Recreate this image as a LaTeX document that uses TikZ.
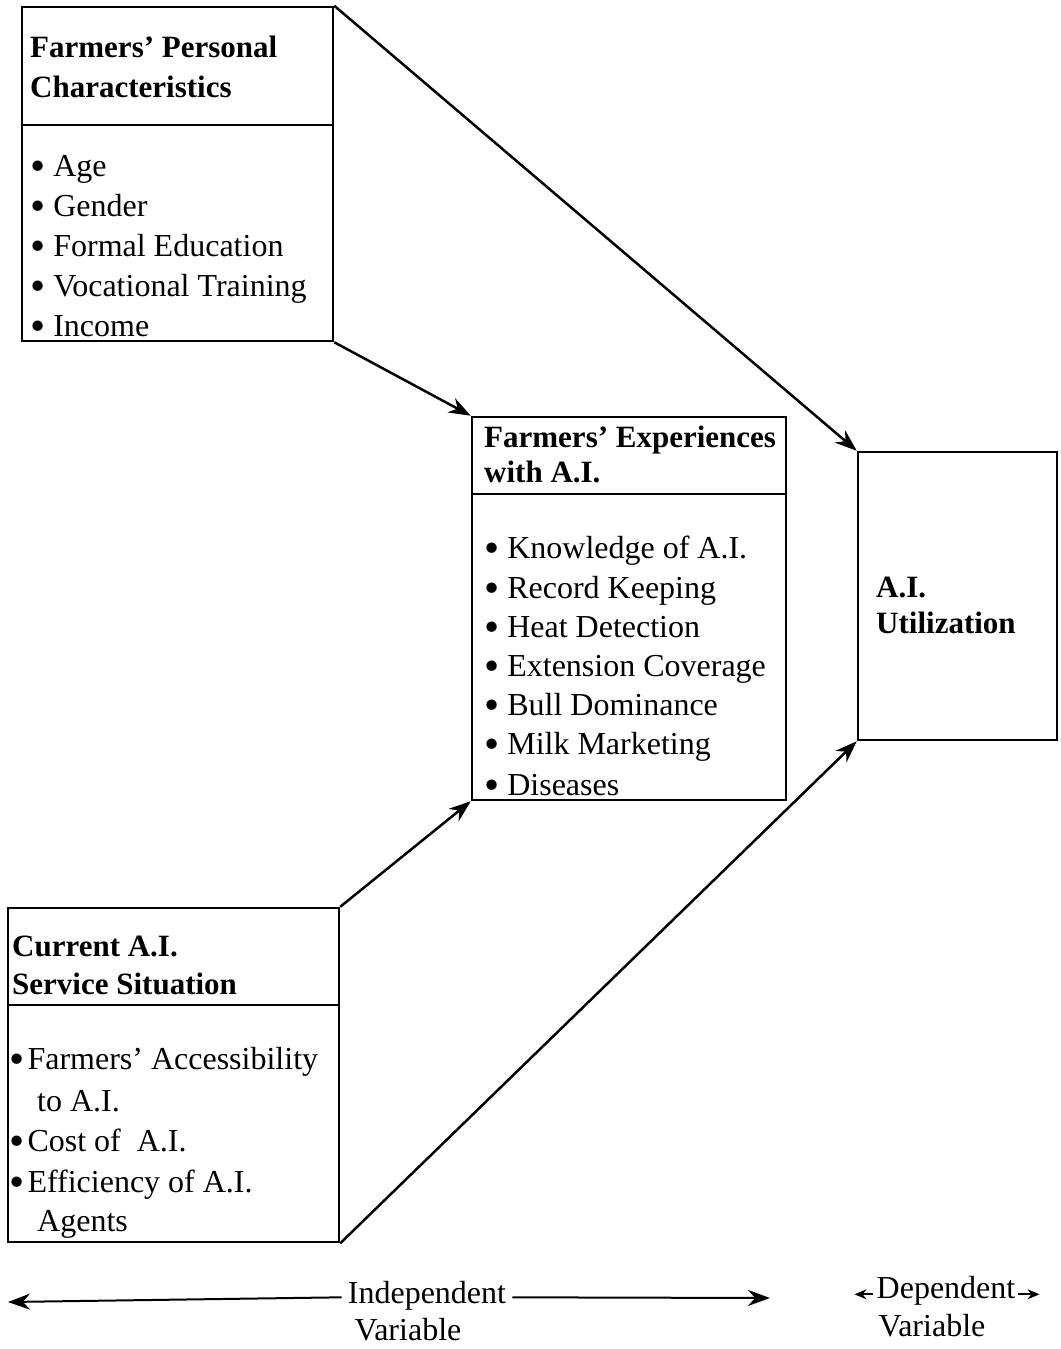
\documentclass[tikz,border=0pt]{standalone}
\usepackage{fontspec}
\setmainfont{Liberation Serif}
\usetikzlibrary{arrows.meta}
\tikzstyle{box}=[rectangle,draw=black,line width=2.5pt,inner sep=0pt]
\tikzstyle{split}=[line width=2pt]
\tikzstyle{head}=[anchor=base west,inner sep=0pt,font=\fontsize{31}{37}\selectfont\bfseries]
\tikzstyle{item}=[anchor=base west,inner sep=0pt,font=\fontsize{32}{40}\selectfont]
\tikzstyle{link}=[line width=2.5pt,-{Stealth[length=22pt,width=16pt]}]
\newcommand{\dotmark}{\raisebox{-0.14em}{\scalebox{1.35}{\textbullet}}}

\begin{document}
\begin{tikzpicture}[x=1pt,y=-1pt]
  \useasboundingbox (0,0) rectangle (1060,1349);

  % the four boxes
  \node[box,minimum width=311pt,minimum height=334pt] (personal) at (177.5,174) {};
  \node[box,minimum width=314pt,minimum height=383pt] (experience) at (629,608.5) {};
  \node[box,minimum width=199pt,minimum height=288pt] (utilization) at (957.5,596) {};
  \node[box,minimum width=331pt,minimum height=334pt] (service) at (173.5,1075) {};

  \draw[split] (22,125) -- (333,125);
  \draw[split] (472,494) -- (786,494);
  \draw[split] (8,1005) -- (339,1005);

  % headings
  \node[head] (personal head 1) at (30,57) {Farmers' Personal};
  \node[head] (personal head 2) at (30,97) {Characteristics};
  \node[head] (experience head 1) at (484,447) {Farmers' Experiences};
  \node[head] (experience head 2) at (484,482) {with A.I.};
  \node[head] (utilization head 1) at (876,597) {A.I.};
  \node[head] (utilization head 2) at (876,633) {Utilization};
  \node[head] (service head 1) at (12,956) {Current A.I.};
  \node[head] (service head 2) at (12,994) {Service Situation};

  % bullet lists
  \foreach \y/\txt in {176/Age,216/Gender,256/Formal Education,296/Vocational Training,336/Income} {
    \node[item] (personal \y) at (30,\y) {\dotmark\hspace{0.25em}\txt};
  }
  \foreach \y/\txt in {558/Knowledge of A.I.,598/Record Keeping,637/Heat Detection,676/Extension Coverage,715/Bull Dominance,754/Milk Marketing,795/Diseases} {
    \node[item] (experience \y) at (484,\y) {\dotmark\hspace{0.25em}\txt};
  }
  \foreach \y/\txt in {1069/Farmers' Accessibility,1151/Cost of\ \ A.I.,1192/Efficiency of A.I.} {
    \node[item] (service \y) at (9,\y) {\dotmark\hspace{0.1em}\txt};
  }
  \node[item] (service 1111) at (37,1111) {to A.I.};
  \node[item] (service 1231) at (37,1231) {Agents};

  % links between boxes
  \draw[link] (personal.north east) -- (utilization.north west);
  \draw[link] (personal.south east) -- (experience.north west);
  \draw[link] (service.north east) -- (experience.south west);
  \draw[link] (service.south east) -- (utilization.south west);

  % variable labels
  \node[item,anchor=base] (independent) at (427,1303) {Independent};
  \node[item,anchor=base] (independent 2) at (408,1340) {Variable};
  \coordinate (independent left) at (8,1302);
  \coordinate (independent right) at (770,1298);
  \draw[link,line width=2pt] (independent.west) ++(-6,2) -- (independent left);
  \draw[link,line width=2pt] (independent.east) ++(6,2) -- (independent right);

  \node[item,anchor=base] (dependent) at (946,1298) {Dependent};
  \node[item,anchor=base] (dependent 2) at (932,1336) {Variable};
  \draw[-{Stealth[length=12pt,width=10pt]},line width=1.8pt] (dependent.west) ++(-4,4) -- ++(-18,0);
  \draw[-{Stealth[length=12pt,width=10pt]},line width=1.8pt] (dependent.east) ++(2,4) -- ++(22,0);
\end{tikzpicture}
\end{document}
